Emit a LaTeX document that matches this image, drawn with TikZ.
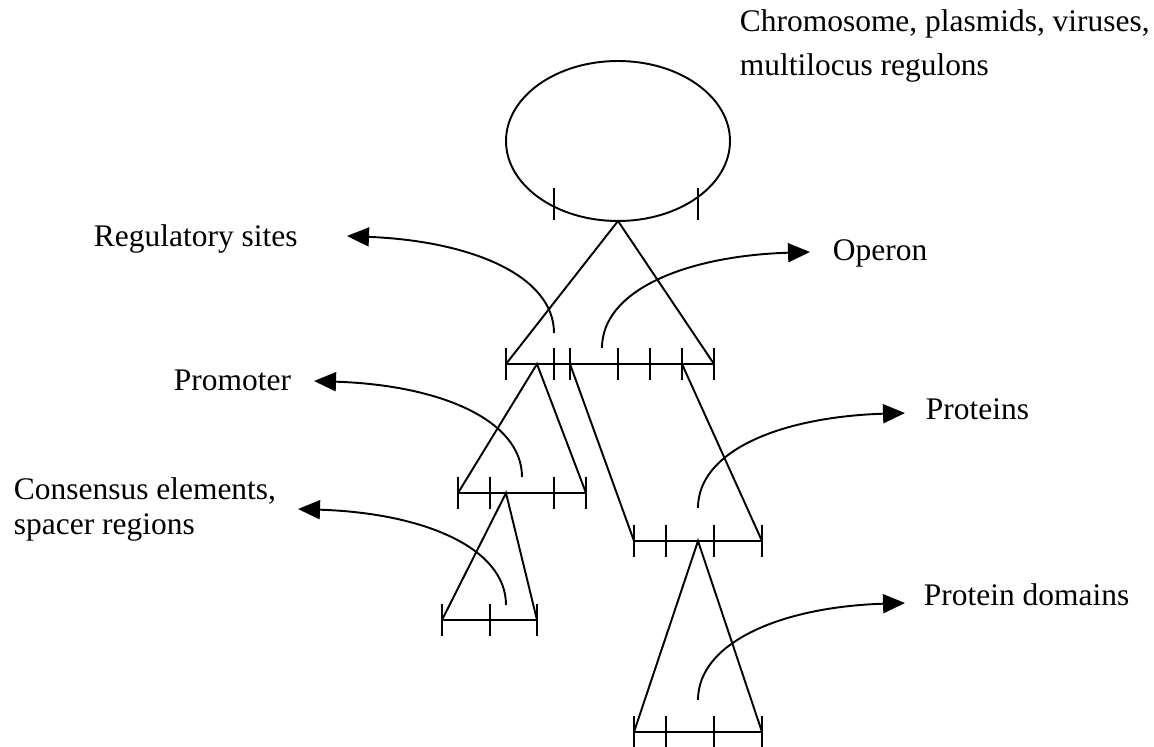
\documentclass[tikz,border=0pt]{standalone}
\usepackage{fontspec}
\setmainfont{Liberation Serif}
\usetikzlibrary{arrows.meta}
\tikzset{
  lbl/.style={inner sep=0pt, anchor=base west, align=left,
    font=\fontsize{17.9}{24.5}\selectfont},
  pointer/.style={-{Triangle[length=0.44cm,width=0.38cm]}},
}
\begin{document}
\begin{tikzpicture}[x=0.02cm,y=-0.02cm,line width=1.1pt]
  \useasboundingbox (0,0) rectangle (1154,747);
  % genome
  \draw (618,141) ellipse [x radius=112, y radius=80];
  \foreach \x in {554,698}
    \draw (\x,188) -- (\x,220);
  % operon level
  \draw (506,364) -- (618,221) -- (714,364);
  \draw (506,364) -- (714,364);
  \foreach \x in {506,554,570,618,650,682,714}
    \draw (\x,348) -- (\x,380);
  % promoter level
  \draw (458,493) -- (537,364) -- (586,493);
  \draw (458,493) -- (586,493);
  \foreach \x in {458,490,554,586}
    \draw (\x,477) -- (\x,509);
  \draw (442,620) -- (506,493) -- (537,620);
  \draw (442,620) -- (537,620);
  \foreach \x in {442,490,537}
    \draw (\x,604) -- (\x,636);
  % proteins level
  \draw (570,364) -- (634,541);
  \draw (682,364) -- (762,541);
  \draw (634,541) -- (762,541);
  \foreach \x in {634,666,714,762}
    \draw (\x,525) -- (\x,557);
  \draw (634,732) -- (698,541) -- (762,732);
  \draw (634,732) -- (762,732);
  \foreach \x in {634,666,714,762}
    \draw (\x,716) -- (\x,748);
  % labels
  \node[lbl] (chrom) at (739,75) {Chromosome, plasmids, viruses,\\multilocus regulons};
  \node[lbl] (reg) at (93,246) {Regulatory sites};
  \node[lbl] (operon) at (832,260) {Operon};
  \node[lbl] (prom) at (173,390) {Promoter};
  \node[lbl, font=\fontsize{17.9}{19.9}\selectfont] (cons) at (13,534) {Consensus elements,\\spacer regions};
  \node[lbl] (prot) at (925,419) {Proteins};
  \node[lbl] (dom) at (923,605) {Protein domains};
  % arrows
  \coordinate (regfrom) at (554,333);
  \coordinate (regto) at (347,236);
  \coordinate (operonfrom) at (602,348);
  \coordinate (operonto) at (810,252);
  \coordinate (promfrom) at (522,477);
  \coordinate (promto) at (314,381);
  \coordinate (consfrom) at (506,605);
  \coordinate (consto) at (298,509);
  \coordinate (protfrom) at (698,508);
  \coordinate (protto) at (905,413);
  \coordinate (domfrom) at (698,700);
  \coordinate (domto) at (905,603);
  \draw[pointer] (regfrom) .. controls +(0,-57) and +(125,5) .. (regto);
  \draw[pointer] (operonfrom) .. controls +(0,-57) and +(-126,4) .. (operonto);
  \draw[pointer] (promfrom) .. controls +(0,-57) and +(126,4) .. (promto);
  \draw[pointer] (consfrom) .. controls +(0,-57) and +(126,4) .. (consto);
  \draw[pointer] (protfrom) .. controls +(0,-57) and +(-125,4) .. (protto);
  \draw[pointer] (domfrom) .. controls +(0,-57) and +(-125,4) .. (domto);
\end{tikzpicture}
\end{document}
